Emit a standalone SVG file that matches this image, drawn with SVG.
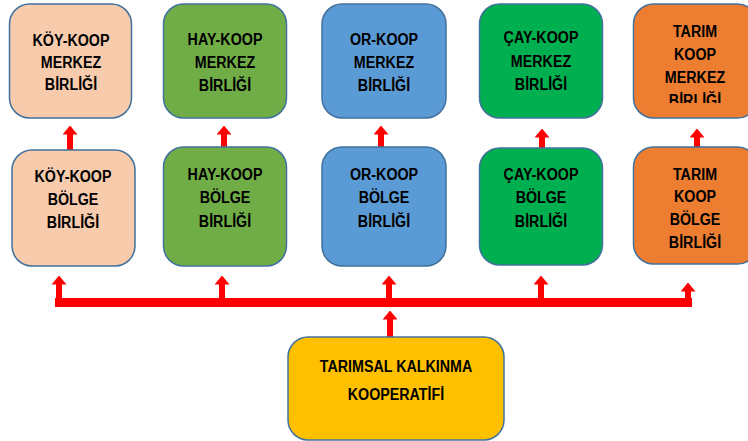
<svg xmlns="http://www.w3.org/2000/svg" width="748" height="441" viewBox="0 0 748 441">
<style>
.box{stroke:#41719C;stroke-width:1.5}
.t{font-family:"Liberation Sans",Arial,sans-serif;font-weight:bold;font-size:17px;fill:#000;text-anchor:middle}
.c{stroke:#FF0000;fill:none}
</style>
<defs>
<marker id="ah" markerUnits="userSpaceOnUse" markerWidth="9" markerHeight="15" viewBox="0 0 9 15" refX="0.5" refY="7.5" orient="auto">
<path d="M0,0 L9,7.5 L0,15 z" fill="#FF0000"/>
</marker>
<clipPath id="clipTop"><rect x="630" y="0" width="120" height="103"/></clipPath>
</defs>
<rect width="748" height="441" fill="#FFFFFF"/>

<g id="connectors">
<line class="c" x1="70" y1="150" x2="70" y2="134" stroke-width="6" marker-end="url(#ah)"/>
<line class="c" x1="224" y1="147" x2="224" y2="134" stroke-width="6" marker-end="url(#ah)"/>
<line class="c" x1="381" y1="147" x2="381" y2="134" stroke-width="6" marker-end="url(#ah)"/>
<line class="c" x1="542" y1="148" x2="542" y2="137" stroke-width="6" marker-end="url(#ah)"/>
<line class="c" x1="697" y1="147" x2="697" y2="137" stroke-width="6" marker-end="url(#ah)"/>
<line class="c" x1="55" y1="302.5" x2="692" y2="302.5" stroke-width="9"/>
<line class="c" x1="59" y1="302" x2="59" y2="284" stroke-width="6" marker-end="url(#ah)"/>
<line class="c" x1="222" y1="302" x2="222" y2="284" stroke-width="6" marker-end="url(#ah)"/>
<line class="c" x1="389" y1="302" x2="389" y2="284" stroke-width="6" marker-end="url(#ah)"/>
<line class="c" x1="541" y1="302" x2="541" y2="284" stroke-width="6" marker-end="url(#ah)"/>
<line class="c" x1="688" y1="302" x2="688" y2="291" stroke-width="6" marker-end="url(#ah)"/>
<line class="c" x1="390" y1="337" x2="390" y2="319" stroke-width="6" marker-end="url(#ah)"/>
</g>

<g id="koy-merkez">
<rect class="box" x="9.5" y="4" width="122" height="114" rx="20" fill="#F8CBAD"/>
<g transform="translate(71 0) scale(0.84 1)">
<text class="t" x="0" y="46">KÖY-KOOP</text>
<text class="t" x="0" y="68">MERKEZ</text>
<text class="t" x="0" y="90">BİRLİĞİ</text>
</g>
</g>
<g id="koy-bolge">
<rect class="box" x="12" y="150" width="123" height="116" rx="20" fill="#F8CBAD"/>
<g transform="translate(73 0) scale(0.84 1)">
<text class="t" x="0" y="182">KÖY-KOOP</text>
<text class="t" x="0" y="205">BÖLGE</text>
<text class="t" x="0" y="228">BİRLİĞİ</text>
</g>
</g>
<g id="hay-merkez">
<rect class="box" x="163.5" y="4" width="123" height="114" rx="20" fill="#70AD47"/>
<g transform="translate(225 0) scale(0.84 1)">
<text class="t" x="0" y="45">HAY-KOOP</text>
<text class="t" x="0" y="68">MERKEZ</text>
<text class="t" x="0" y="91">BİRLİĞİ</text>
</g>
</g>
<g id="hay-bolge">
<rect class="box" x="163.5" y="147" width="123" height="119" rx="20" fill="#70AD47"/>
<g transform="translate(225 0) scale(0.84 1)">
<text class="t" x="0" y="180">HAY-KOOP</text>
<text class="t" x="0" y="203">BÖLGE</text>
<text class="t" x="0" y="227">BİRLİĞİ</text>
</g>
</g>
<g id="or-merkez">
<rect class="box" x="322" y="4" width="124" height="114" rx="20" fill="#5B9BD5"/>
<g transform="translate(384 0) scale(0.84 1)">
<text class="t" x="0" y="45">OR-KOOP</text>
<text class="t" x="0" y="68">MERKEZ</text>
<text class="t" x="0" y="91">BİRLİĞİ</text>
</g>
</g>
<g id="or-bolge">
<rect class="box" x="322" y="147" width="124" height="119" rx="20" fill="#5B9BD5"/>
<g transform="translate(384 0) scale(0.84 1)">
<text class="t" x="0" y="180">OR-KOOP</text>
<text class="t" x="0" y="203">BÖLGE</text>
<text class="t" x="0" y="227">BİRLİĞİ</text>
</g>
</g>
<g id="cay-merkez">
<rect class="box" x="479.5" y="4" width="123" height="114" rx="20" fill="#00B050"/>
<g transform="translate(541 0) scale(0.84 1)">
<text class="t" x="0" y="43">ÇAY-KOOP</text>
<text class="t" x="0" y="67">MERKEZ</text>
<text class="t" x="0" y="90">BİRLİĞİ</text>
</g>
</g>
<g id="cay-bolge">
<rect class="box" x="479.5" y="148" width="123" height="117" rx="20" fill="#00B050"/>
<g transform="translate(541 0) scale(0.84 1)">
<text class="t" x="0" y="180">ÇAY-KOOP</text>
<text class="t" x="0" y="203">BÖLGE</text>
<text class="t" x="0" y="227">BİRLİĞİ</text>
</g>
</g>
<g id="tarim-merkez">
<rect class="box" x="633.5" y="4" width="124" height="114" rx="20" fill="#ED7D31"/>
<g clip-path="url(#clipTop)">
<g transform="translate(695 0) scale(0.84 1)">
<text class="t" x="0" y="37">TARIM</text>
<text class="t" x="0" y="60">KOOP</text>
<text class="t" x="0" y="83">MERKEZ</text>
<text class="t" x="0" y="106">BİRLİĞİ</text>
</g>
</g>
</g>
<g id="tarim-bolge">
<rect class="box" x="633.5" y="147" width="124" height="117" rx="20" fill="#ED7D31"/>
<g transform="translate(695 0) scale(0.84 1)">
<text class="t" x="0" y="180">TARIM</text>
<text class="t" x="0" y="202">KOOP</text>
<text class="t" x="0" y="225">BÖLGE</text>
<text class="t" x="0" y="248">BİRLİĞİ</text>
</g>
</g>
<g id="tarimsal-kalkinma">
<rect class="box" x="288" y="337" width="216" height="103" rx="20" fill="#FFC000"/>
<g transform="translate(396 0) scale(0.84 1)">
<text class="t" x="0" y="372">TARIMSAL KALKINMA</text>
<text class="t" x="0" y="400">KOOPERATİFİ</text>
</g>
</g>
</svg>
